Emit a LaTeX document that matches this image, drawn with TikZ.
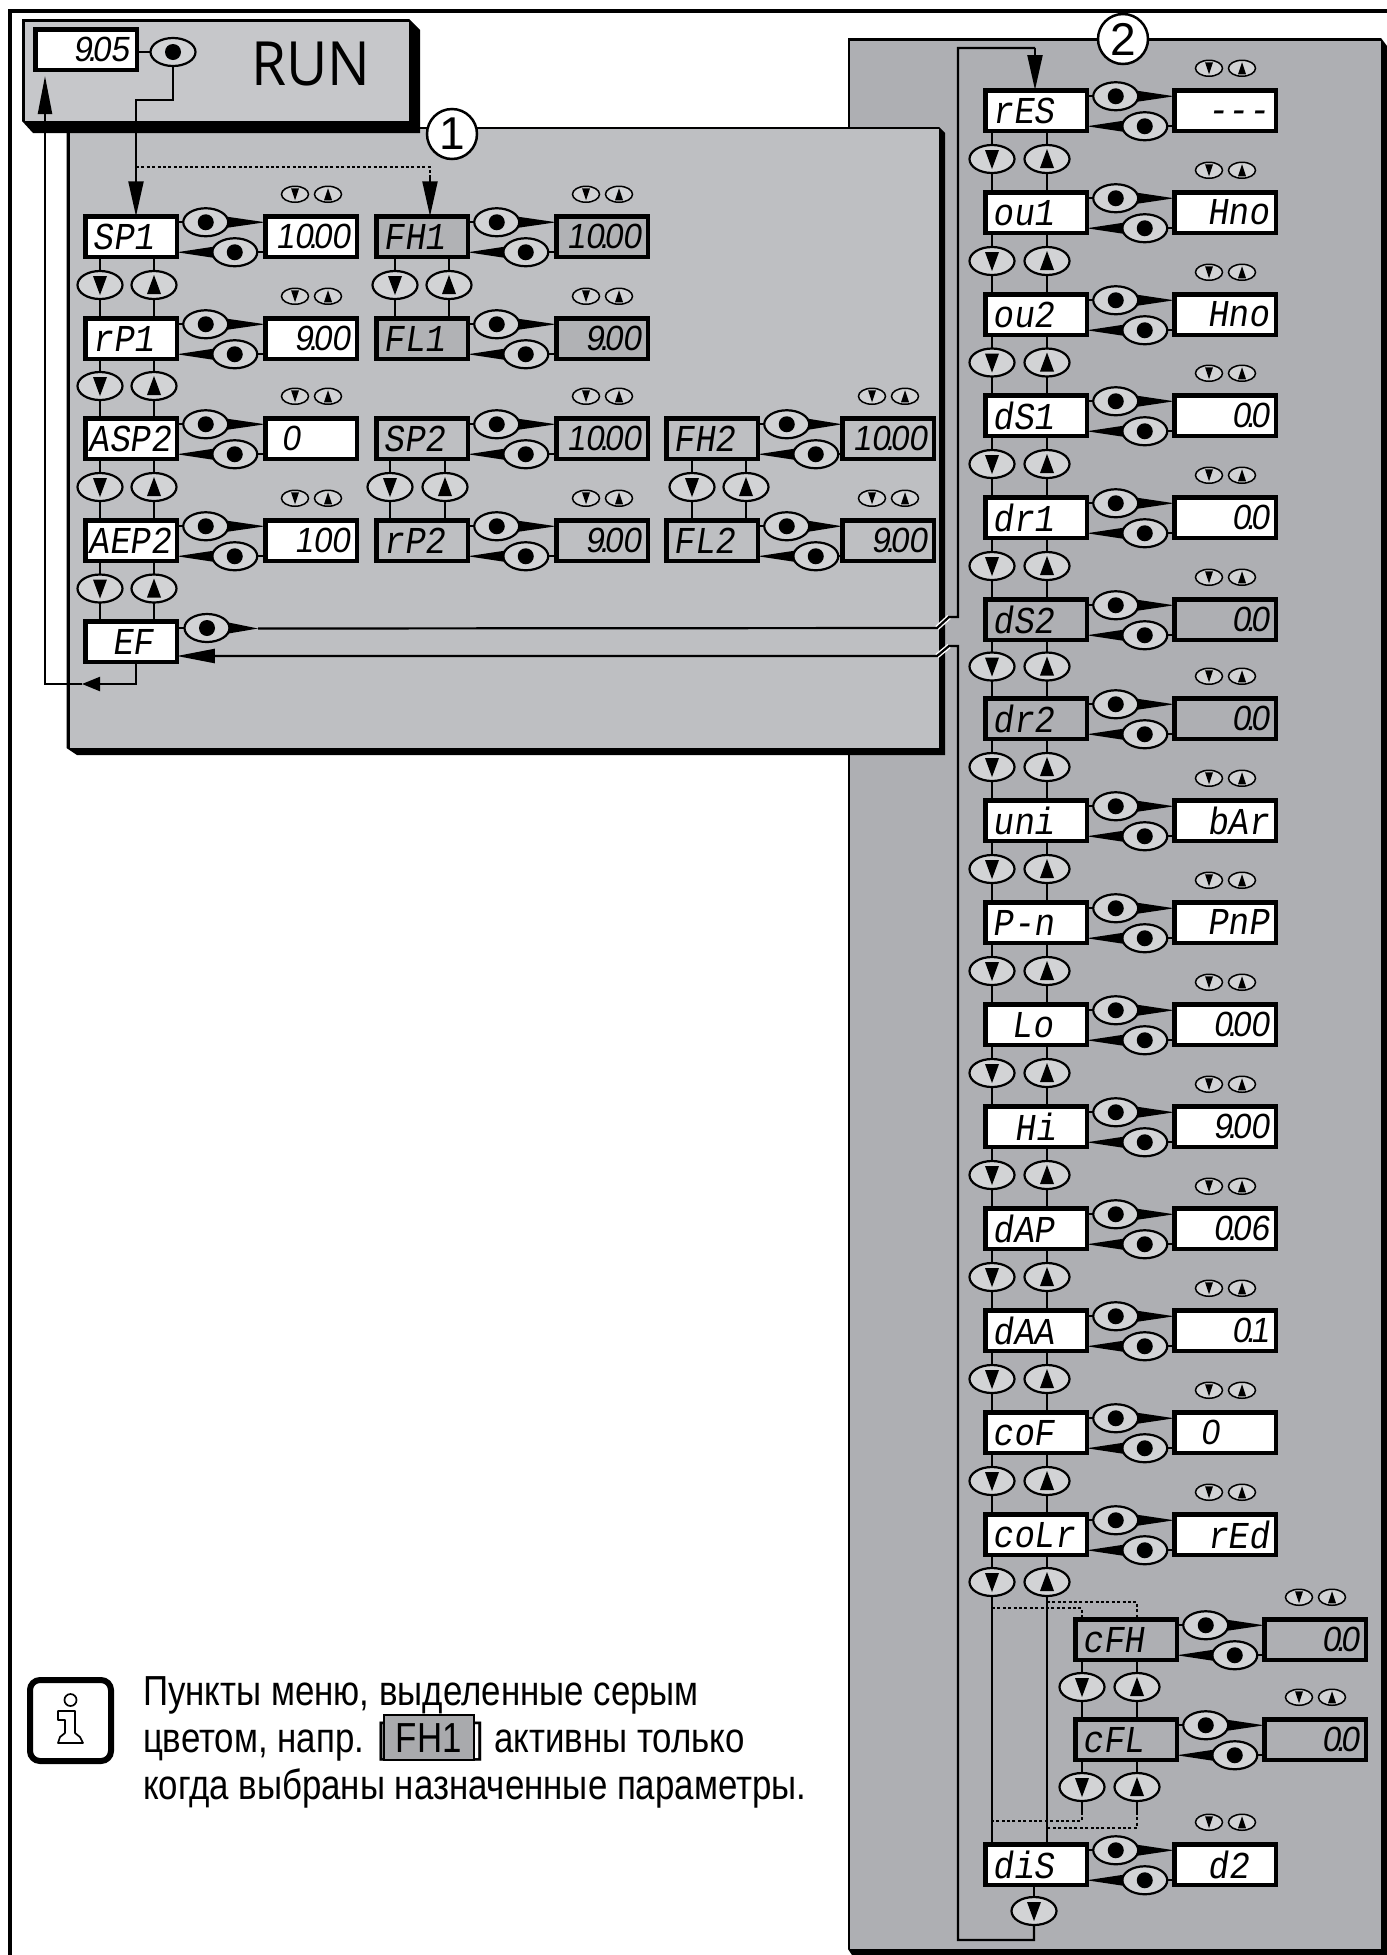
\documentclass[tikz,border=0pt]{standalone}
\usepackage{fontspec}
\usetikzlibrary{positioning,calc,shapes.geometric,arrows.meta}
\newfontfamily\lcdlabelfont[FakeSlant=0.15,FakeStretch=0.9]{Liberation Mono}
\newfontfamily\lcdnumfont[FakeSlant=0.15,FakeStretch=0.95]{Liberation Sans}
\newfontfamily\notefont[FakeStretch=0.83]{Liberation Sans}
\newfontfamily\plainfont{Liberation Sans}
\newfontfamily\runfont[FakeStretch=0.93]{Open Sans}
\newcommand{\lcdtxt}{\lcdlabelfont\fontsize{38}{40}\selectfont}
\newcommand{\lcdnum}{\lcdnumfont\fontsize{35}{40}\selectfont}
\newcommand{\pt}{\kern-4.5pt.\kern-4.5pt}
\definecolor{PanelOne}{HTML}{BEBFC2}
\definecolor{PanelTwo}{HTML}{AEAFB3}
\definecolor{RunGray}{HTML}{C6C7CA}
\definecolor{KeyGray}{HTML}{D2D3D5}
\definecolor{DimOne}{HTML}{B1B2B5}
\definecolor{NoteGray}{HTML}{A9AAAD}
\tikzset{
  lcdbox/.style={rectangle, draw, line width=4.5pt, inner sep=0pt, outer sep=0pt, minimum height=40.5pt},
  keybase/.style={ellipse, draw, line width=2.2pt, fill=KeyGray, inner sep=0pt, outer sep=0pt, minimum width=45pt, minimum height=28pt},
  keydn/.style={keybase, path picture={\fill[black] (path picture bounding box.center) ++(-7,-9) -- ++(14,0) -- ++(-7,19) -- cycle;}},
  keyup/.style={keybase, path picture={\fill[black] (path picture bounding box.center) ++(-7,9) -- ++(14,0) -- ++(-7,-19) -- cycle;}},
  enterkey/.style={keybase, path picture={\fill[black] (path picture bounding box.center) circle (8);}},
  smallbase/.style={keybase, line width=1.5pt, minimum width=27pt, minimum height=16pt},
  smalldn/.style={smallbase, path picture={\fill[black] (path picture bounding box.center) ++(-4,-6) -- ++(8,0) -- ++(-4,12) -- cycle;}},
  smallup/.style={smallbase, path picture={\fill[black] (path picture bounding box.center) ++(-4,6) -- ++(8,0) -- ++(-4,-12) -- cycle;}},
  wire/.style={line width=2.2pt},
  dotwire/.style={line width=2.2pt, dash pattern=on 3pt off 2.4pt},
  longtip/.style={-{Triangle[length=35pt,width=15pt]}},
  numcircle/.style={circle, draw, fill=white, line width=2.5pt, inner sep=0pt, minimum size=50pt, font=\plainfont\fontsize{46}{48}\selectfont},
  notetext/.style={inner sep=0pt, outer sep=0pt, anchor=base west, font=\notefont\fontsize{42}{46}\selectfont},
}
\newcommand{\boxw}{96}
\newcommand{\valgap}{88.5}
\newcommand{\keyoff}{29}
% name, left, top, label, value, fill
\newcommand{\menurow}[6]{
  \node[lcdbox, fill=#6, minimum width={\boxw-4.5}, anchor=north west, font=\lcdtxt] (#1) at (#2+2.25,#3+2.25) {\vphantom{0}\makebox[\dimexpr\boxw pt-4.5pt\relax][l]{\hspace*{7.5pt}#4}};
  \node[lcdbox, fill=#6, minimum width={\boxw-4.5}, right=\valgap pt of #1, font=\lcdnum] (#1-v) {\vphantom{0}\makebox[\dimexpr\boxw pt-4.5pt\relax][r]{#5\hspace*{7pt}}};
  \node[enterkey] (#1-a) at ([xshift=\keyoff pt,yshift=-6pt]#1.north east) {};
  \node[enterkey] (#1-b) at ([xshift=\keyoff pt+29pt,yshift=-36pt]#1.north east) {};
  \fill ([xshift=-1pt,yshift=5.5pt]#1-a.east) -- (#1-a.east -| #1-v.west) -- ([xshift=-1pt,yshift=-5.5pt]#1-a.east) -- cycle;
  \fill ([xshift=1pt,yshift=5.5pt]#1-b.west) -- (#1-b.west -| #1.east) -- ([xshift=1pt,yshift=-5.5pt]#1-b.west) -- cycle;
  \draw[wire] (#1-a.west) -- (#1-a.west -| #1.east);
  \draw[wire] (#1-b.east) -- (#1-b.east -| #1-v.west);
  \node[smalldn] (#1-sd) at ([xshift=-16pt,yshift=22pt]#1-v.north) {};
  \node[smallup] (#1-su) at ([xshift=17pt,yshift=22pt]#1-v.north) {};
}
% upper row, lower row, x of down key, x of up key
\newcommand{\rowkeys}[4]{
  \coordinate (#1-mid) at ($(#1.south)!.5!(#2.north)$);
  \node[keydn] (#1-dn) at ($(#1-mid -| 0,0)+(#3,-2.5)$) {};
  \node[keyup] (#1-up) at ($(#1-mid -| 0,0)+(#4,-2.5)$) {};
  \draw[wire] (#1-dn) -- (#1-dn |- #1.south);
  \draw[wire] (#1-dn) -- (#1-dn |- #2.north);
  \draw[wire] (#1-up) -- (#1-up |- #1.south);
  \draw[wire] (#1-up) -- (#1-up |- #2.north);
}
\begin{document}
\begin{tikzpicture}[x=1pt, y=-1pt]
  \useasboundingbox (0,0) rectangle (1387,1955);
  \draw[line width=3.5pt] (10,1955) -- (10,11) -- (1387,11);

  \fill (848,38) -- (1381,38) -- (1387,46) -- (1387,1955) -- (852,1955) -- (848,1949) -- cycle;
  \fill[PanelTwo] (850,40.5) rectangle (1381,1949);
  \node[numcircle] (numtwo) at (1123,39) {2};

  \fill (66.5,127) -- (939,127) -- (945,133) -- (945,755) -- (77,755) -- (66.5,748) -- cycle;
  \fill[PanelOne] (69.5,128.5) rectangle (939,748);
  \node[numcircle] (numone) at (452,134) {1};

  \fill (22,19) -- (409,19) -- (420,30) -- (420,133) -- (33,133) -- (22,121) -- cycle;
  \fill[RunGray] (24.5,21.5) rectangle (409,121);
  \node[font=\runfont\fontsize{61}{64}\selectfont] (runtext) at (311,64) {RUN};

  \node[lcdbox, fill=white, minimum width=101.5pt, anchor=north west, font=\lcdnum] (disp) at (35.25,29.25) {\vphantom{0}\makebox[101.5pt][r]{9\pt05\hspace*{8pt}}};
  \node[enterkey] (runkey) at (173,52) {};
  \draw[wire] (disp.east |- runkey) -- (runkey);

  % left panel
  \menurow{SP1}{83}{214}{SP1}{10\pt00}{white}
  \menurow{rP1}{83}{316}{rP1}{9\pt00}{white}
  \menurow{ASP2}{83}{416}{\hspace*{-4pt}ASP2}{0\hspace*{50pt}}{white}
  \menurow{AEP2}{83}{518}{\hspace*{-4pt}AEP2}{100}{white}
  \node[lcdbox, fill=white, minimum width=91.5pt, anchor=north west, font=\lcdtxt] (EF) at (85.25,621.25) {\vphantom{0}\makebox[91.5pt][l]{\hspace*{27pt}EF}};
  \node[enterkey] (EF-a) at (207,628) {};
  \draw[wire] (EF-a.west) -- (EF-a.west -| EF.east);
  \rowkeys{SP1}{rP1}{100}{154}
  \rowkeys{rP1}{ASP2}{100}{154}
  \rowkeys{ASP2}{AEP2}{100}{154}
  \rowkeys{AEP2}{EF}{100}{154}

  \menurow{FH1}{374}{214}{FH1}{10\pt00}{DimOne}
  \menurow{FL1}{374}{316}{FL1}{9\pt00}{DimOne}
  \menurow{SP2}{374}{416}{SP2}{10\pt00}{PanelOne}
  \menurow{rP2}{374}{518}{rP2}{9\pt00}{PanelOne}
  \rowkeys{FH1}{FL1}{395}{449}
  \rowkeys{SP2}{rP2}{390}{445}

  \renewcommand{\valgap}{84.5}
  \menurow{FH2}{664}{416}{FH2}{10\pt00}{PanelOne}
  \menurow{FL2}{664}{518}{FL2}{9\pt00}{PanelOne}
  \rowkeys{FH2}{FL2}{692}{746}

  % right panel
  \renewcommand{\boxw}{106}
  \renewcommand{\valgap}{87.5}
  \menurow{rES}{983}{88}{rES}{\lcdtxt -{}-{}-}{white}
  \menurow{ou1}{983}{190}{ou1}{\lcdtxt Hno}{white}
  \menurow{ou2}{983}{292}{ou2}{\lcdtxt Hno}{white}
  \menurow{dS1}{983}{393}{dS1}{0\pt0}{white}
  \menurow{dr1}{983}{495}{dr1}{0\pt0}{white}
  \menurow{dS2}{983}{597}{dS2}{0\pt0}{PanelTwo}
  \menurow{dr2}{983}{696}{dr2}{0\pt0}{PanelTwo}
  \menurow{uni}{983}{798}{uni}{\lcdtxt bAr}{white}
  \menurow{Pn}{983}{900}{P-n}{\lcdtxt PnP}{white}
  \menurow{Lo}{983}{1002}{\hspace*{19pt}Lo}{0\pt00}{white}
  \menurow{Hi}{983}{1104}{\hspace*{22pt}Hi}{9\pt00}{white}
  \menurow{dAP}{983}{1206}{dAP}{0\pt06}{white}
  \menurow{dAA}{983}{1308}{dAA}{0\pt1}{white}
  \menurow{coF}{983}{1410}{coF}{0\hspace*{50pt}}{white}
  \menurow{coLr}{983}{1512}{coLr}{\lcdtxt rEd}{white}
  \menurow{diS}{983}{1842}{diS}{\lcdtxt d2\hspace*{20pt}}{white}
  \menurow{cFH}{1073}{1617}{cFH}{0\pt0}{PanelTwo}
  \menurow{cFL}{1073}{1717}{cFL}{0\pt0}{PanelTwo}
  \rowkeys{rES}{ou1}{992}{1047}
  \rowkeys{ou1}{ou2}{992}{1047}
  \rowkeys{ou2}{dS1}{992}{1047}
  \rowkeys{dS1}{dr1}{992}{1047}
  \rowkeys{dr1}{dS2}{992}{1047}
  \rowkeys{dS2}{dr2}{992}{1047}
  \rowkeys{dr2}{uni}{992}{1047}
  \rowkeys{uni}{Pn}{992}{1047}
  \rowkeys{Pn}{Lo}{992}{1047}
  \rowkeys{Lo}{Hi}{992}{1047}
  \rowkeys{Hi}{dAP}{992}{1047}
  \rowkeys{dAP}{dAA}{992}{1047}
  \rowkeys{dAA}{coF}{992}{1047}
  \rowkeys{coF}{coLr}{992}{1047}
  \rowkeys{cFH}{cFL}{1082}{1137}

  \node[keydn] (coLr-dn) at (992,1582) {};
  \node[keyup] (coLr-up) at (1047,1582) {};
  \draw[wire] (coLr-dn) -- (coLr-dn |- coLr.south);
  \draw[wire] (coLr-up) -- (coLr-up |- coLr.south);
  \draw[wire] (coLr-dn) -- (coLr-dn |- diS.north);
  \draw[wire] (coLr-up) -- (coLr-up |- diS.north);
  \node[keydn] (cFL-dn) at (1082,1787) {};
  \node[keyup] (cFL-up) at (1137,1787) {};
  \draw[wire] (cFL-dn) -- (cFL-dn |- cFL.south);
  \draw[wire] (cFL-up) -- (cFL-up |- cFL.south);
  \coordinate (dnout) at (1082,1821);
  \coordinate (upout) at (1137,1828);
  \draw[wire] (cFL-dn) -- (1082,1812);
  \draw[wire] (cFL-up) -- (1137,1812);
  \draw[dotwire] (1082,1812) -- (dnout) -- (dnout -| coLr-dn);
  \draw[dotwire] (1137,1812) -- (upout) -- (upout -| coLr-up);
  \draw[dotwire] (992,1608) -| (cFH-dn |- cFH.north);
  \draw[dotwire] (1047,1602) -| (cFH-up |- cFH.north);
  \node[keydn] (diS-dn) at (1034,1911) {};
  \draw[wire] (diS-dn) -- (diS-dn |- diS.south);

  % connectors between the panels
  \coordinate (runjog) at (136,100);
  \draw[wire, longtip] (runkey) |- (runjog) -- (runjog |- SP1.north);
  \coordinate (dotturn) at (430,167);
  \coordinate (dotend) at (430,178);
  \draw[dotwire] (runjog |- dotturn) -- (dotturn) -- (dotend);
  \draw[wire, longtip] (dotend) -- (dotend |- FH1.north);

  \coordinate (efout) at (136,662);
  \coordinate (retmid) at (82,684);
  \coordinate (rettop) at (45,76);
  \draw[wire, -{Triangle[length=18pt,width=14pt]}] (efout) |- (retmid);
  \draw[wire, -{Triangle[length=38pt,width=14pt]}] (retmid) -| (rettop);

  \coordinate (brka) at (937,628);
  \coordinate (brkb) at (949,617);
  \coordinate (brkc) at (937,656);
  \coordinate (brkd) at (949,646);
  \coordinate (hop) at (958,617);
  \coordinate (lowturn) at (958,1940);
  \draw[white, line width=5pt] (brka) -- (brkb);
  \draw[white, line width=5pt] (brkc) -- (brkd);
  \fill ([xshift=-1pt,yshift=5.5pt]EF-a.east) -- (258,628.5) -- ([xshift=-1pt,yshift=-5.5pt]EF-a.east) -- cycle;
  \draw[wire] (258,628.5) -- (brka) -- (brkb) -- (hop) -- (958,48) -- (1035,48);
  \draw[wire, longtip] (1035,48) -- (1035,90);
  \draw[wire, -{Triangle[length=38pt,width=14pt]}] (diS-dn) |- (lowturn) -- (958,646) -- (brkd) -- (brkc) -- (brkc -| EF.east);

  % note
  \node[rectangle, draw, line width=6pt, rounded corners=10pt, minimum width=81pt, minimum height=81pt, outer sep=0pt, inner sep=0pt] (infobox) at (70.5,1720.5) {};
  \node[circle, draw, line width=1.7pt, inner sep=0pt, minimum size=12pt] (infodot) at (infobox.center |- 0,1700) {};
  \draw[line width=1.7pt, line join=round] (58,1711) -- (75,1711) -- (75,1733) -- (80,1737) -- (83,1743) -- (58,1743) -- (60,1737) -- (65,1733) -- (65,1720) -- (58,1720) -- cycle;
  \node[notetext] (notea) at (143,1705) {Пункты меню, выделенные серым};
  \node[notetext] (noteb) at (143,1752) {цветом, напр. [};
  \node[draw, line width=1.5pt, fill=NoteGray, inner sep=0pt, outer sep=0pt, anchor=base west, minimum width=90pt, minimum height=45pt, font=\notefont\fontsize{42}{46}\selectfont, xshift=-3pt] (noteflag) at (noteb.base east) {FH1};
  \node[notetext, xshift=1pt] (notec) at (noteflag.base east) {] активны только};
  \node[notetext] (noted) at (143,1799) {когда выбраны назначенные параметры.};
\end{tikzpicture}
\end{document}
